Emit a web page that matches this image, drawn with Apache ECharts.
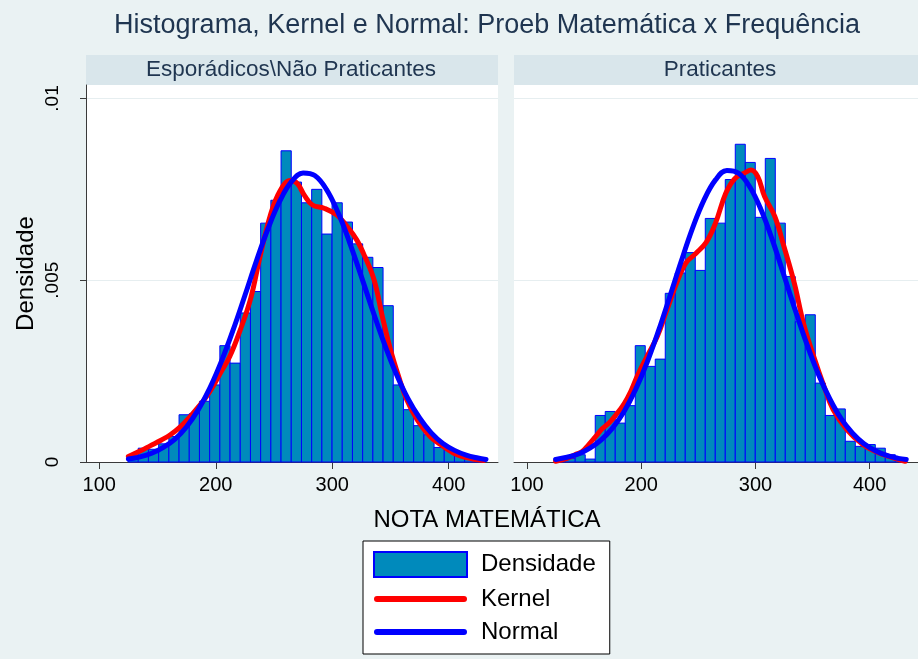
<!DOCTYPE html>
<html>
<head>
<meta charset="utf-8">
<title>Histograma, Kernel e Normal</title>
<script src="https://cdn.jsdelivr.net/npm/echarts@6/dist/echarts.min.js"></script>
<style>
	html, body { margin: 0; padding: 0; background: #eaf2f3; }
	#chart { width: 918px; height: 659px; }
</style>
</head>
<body>
<div id="chart"></div>
<script>
	//histogram bins, same for both panels
	var binStart = 124.7;
	var binWidth = 8.757;
	var panelNames = ['Esporádicos\\Não Praticantes', 'Praticantes'];
	var xTicks = [100, 200, 300, 400];
	var yTicks = [0, 0.005, 0.01];

	//bar heights (density)
	var densNao = [0.00015, 0.00038, 0.00035, 0.0005, 0.0007, 0.0013, 0.00133, 0.00167, 0.00212, 0.0032,
		0.00272, 0.0041, 0.00469, 0.00657, 0.0072, 0.00856, 0.0077, 0.00713, 0.0075, 0.00627,
		0.00713, 0.0066, 0.006, 0.00563, 0.00535, 0.0043, 0.00212, 0.00144, 0.001, 0.00075,
		0.0004, 0.00034, 0.0002, 0.00012, 0.00006];
	var densPrat = [0.00005, 0.0001, 0.0002, 0.00008, 0.00128, 0.00139, 0.00107, 0.00155, 0.0032, 0.00263,
		0.00283, 0.00464, 0.0052, 0.00576, 0.00527, 0.0067, 0.00657, 0.00777, 0.00874, 0.00824,
		0.00673, 0.00835, 0.00657, 0.0051, 0.00386, 0.00405, 0.00217, 0.00128, 0.00146, 0.00057,
		0.00043, 0.00048, 0.00038, 0.0002, 0.0001];

	//kernel curves
	var kernNaoX = [125, 135, 144, 153, 161, 170, 178, 186, 192, 198, 204, 212, 221, 230, 238, 247, 255, 264, 270, 276,
		283, 293, 304, 313, 321, 328, 336, 343, 350, 357, 364, 373, 384, 393, 404, 415, 430];
	var kernNaoY = [0.00015, 0.0003, 0.00045, 0.0006, 0.00075, 0.00098, 0.00125, 0.00155, 0.0018, 0.0021,
		0.00245, 0.0029, 0.00363, 0.0045, 0.00565, 0.0068, 0.00745, 0.00774, 0.00766, 0.00734,
		0.00707, 0.00698, 0.00679, 0.00647, 0.00611, 0.00565, 0.005, 0.004, 0.00309, 0.00235,
		0.00171, 0.00116, 0.0007, 0.00048, 0.00025, 0.00012, 0.00004];
	var kernPratX = [125, 135, 142, 148, 154, 160, 166, 172, 178, 185, 191, 197, 205, 214, 222, 231, 239, 248, 257, 265,
		274, 282, 291, 296, 302, 308, 317, 325, 334, 342, 351, 360, 368, 380, 394, 408, 431];
	var kernPratY = [0.00002, 0.0001, 0.0002, 0.00028, 0.00048, 0.0007, 0.00092, 0.00108, 0.0013, 0.0016,
		0.00195, 0.0024, 0.0029, 0.00345, 0.00414, 0.00492, 0.00547, 0.00574, 0.00605, 0.00657,
		0.00739, 0.0078, 0.00796, 0.00803, 0.00785, 0.0073, 0.00675, 0.00592, 0.00492, 0.00382,
		0.0029, 0.00208, 0.00144, 0.00089, 0.00048, 0.00025, 0.00002];

	//normal curves
	var normX = [125, 135, 145, 155, 165, 175, 185, 195, 205, 215, 225, 235, 245, 255, 265, 275,
		285, 295, 305, 315, 325, 335, 345, 355, 365, 375, 385, 395, 405, 415, 425, 432];
	var normNaoY = [0.00008, 0.00014, 0.00024, 0.0004, 0.00063, 0.00097, 0.00144, 0.00204, 0.00278, 0.00364,
		0.00458, 0.00554, 0.00643, 0.00718, 0.00771, 0.00795, 0.00788, 0.0075, 0.00686, 0.00603,
		0.0051, 0.00414, 0.00323, 0.00242, 0.00174, 0.00121, 0.0008, 0.00051, 0.00032, 0.00019,
		0.00011, 0.00007];
	var normPratY = [0.00007, 0.00013, 0.00022, 0.00038, 0.00061, 0.00094, 0.00139, 0.00199, 0.00273, 0.0036,
		0.00455, 0.00552, 0.00644, 0.00721, 0.00776, 0.00802, 0.00795, 0.00757, 0.00693, 0.00609,
		0.00513, 0.00416, 0.00324, 0.00242, 0.00174, 0.00119, 0.00079, 0.0005, 0.00031, 0.00018,
		0.0001, 0.00007];

	var barFill = '#008abc';
	var barLine = '#0000ff';
	var axisColor = '#3a3a3a';
	var titleColor = '#1f3550';
	var font = 'Liberation Sans, Arial, sans-serif';

	function pairs(xs, ys) {
		var out = [];
		for(var i = 0; i < xs.length; i++) {
			out.push([xs[i], ys[i]]);
		}
		return out;
	}

	function bins(dens) {
		var out = [];
		for(var i = 0; i < dens.length; i++) {
			out.push([binStart + binWidth * i, binStart + binWidth * (i + 1), dens[i]]);
		}
		return out;
	}

	//draw one bar from bin start to bin end
	function renderBar(params, api) {
		var p0 = api.coord([api.value(0), api.value(2)]);
		var p1 = api.coord([api.value(1), 0]);
		return {
			type: 'rect',
			shape: { x: p0[0], y: p0[1], width: p1[0] - p0[0], height: p1[1] - p0[1] },
			style: { fill: barFill, stroke: barLine, lineWidth: 1 }
		};
	}

	function yLabel(v) {
		if(v === 0) return '0';
		return String(v).replace('0.', '.');
	}

	function xAxisOpt(idx) {
		return {
			type: 'value', gridIndex: idx, min: 88.6, max: 442.3,
			axisLine: { show: true, lineStyle: { color: axisColor, width: 1 } },
			axisTick: { show: true, length: 7, customValues: xTicks, lineStyle: { color: axisColor } },
			axisLabel: { customValues: xTicks, margin: 13, fontSize: 20, color: '#000', fontFamily: font },
			splitLine: { show: false }
		};
	}

	function yAxisOpt(idx) {
		var first = idx === 0;
		return {
			type: 'value', gridIndex: idx, min: 0, max: 0.01037,
			name: first ? 'Densidade' : '', nameLocation: 'middle', nameRotate: 90, nameGap: 48,
			nameTextStyle: { fontSize: 24, color: '#000', fontFamily: font },
			axisLine: { show: first, lineStyle: { color: axisColor, width: 1 } },
			axisTick: { show: first, length: 6, customValues: yTicks, lineStyle: { color: axisColor } },
			axisLabel: { show: first, customValues: yTicks, rotate: 90, margin: 24, fontSize: 19, color: '#000', fontFamily: font, formatter: yLabel },
			splitLine: { show: true, lineStyle: { color: '#e6eef0', width: 1 } }
		};
	}

	function lineSeries(name, idx, data, color) {
		return {
			name: name, type: 'line', xAxisIndex: idx, yAxisIndex: idx,
			data: data, smooth: 0.4, symbol: 'none',
			lineStyle: { color: color, width: 5, cap: 'round', join: 'round' },
			itemStyle: { color: color }
		};
	}

	var lineIcon = 'path://M3,0L90,0A3,3 0 0 1 90,6L3,6A3,3 0 0 1 3,0Z';

	var myChart = echarts.init(document.getElementById('chart'));
	var option = {
		animation: false,
		backgroundColor: '#eaf2f3',
		grid: [
			{ left: 86, top: 85, width: 412, height: 377, show: true, backgroundColor: '#fff', borderWidth: 0 },
			{ left: 514, top: 85, width: 412, height: 377, show: true, backgroundColor: '#fff', borderWidth: 0 }
		],
		xAxis: [xAxisOpt(0), xAxisOpt(1)],
		yAxis: [yAxisOpt(0), yAxisOpt(1)],
		legend: {
			left: 363, top: 541, orient: 'vertical',
			padding: [10, 14, 10, 10], itemGap: 9, itemWidth: 93, itemHeight: 25,
			symbolKeepAspect: true,
			backgroundColor: '#fff', borderColor: '#000', borderWidth: 1, borderRadius: 0,
			selectedMode: false,
			formatter: function(name) { return '{t|' + name + '}'; },
			textStyle: {
				color: '#000', fontSize: 24, fontFamily: font,
				rich: { t: { padding: [0, 0, 0, 9], fontSize: 24, color: '#000', fontFamily: font } }
			},
			data: [
				{ name: 'Densidade', icon: 'rect', itemStyle: { color: barFill, borderColor: barLine, borderWidth: 2 } },
				{ name: 'Kernel', icon: lineIcon, itemStyle: { color: '#ff0000', borderWidth: 0 } },
				{ name: 'Normal', icon: lineIcon, itemStyle: { color: '#0000ff', borderWidth: 0 } }
			]
		},
		graphic: [
			{ type: 'text', x: 487, y: 26, style: { text: 'Histograma, Kernel e Normal: Proeb Matemática x Frequência', align: 'center', verticalAlign: 'middle', fontSize: 27, fontFamily: font, fill: titleColor } },
			{ type: 'rect', shape: { x: 86, y: 55, width: 412, height: 30 }, style: { fill: '#d9e6eb' } },
			{ type: 'rect', shape: { x: 514, y: 55, width: 412, height: 30 }, style: { fill: '#d9e6eb' } },
			{ type: 'text', x: 291, y: 70, style: { text: panelNames[0], align: 'center', verticalAlign: 'middle', fontSize: 22.5, fontFamily: font, fill: titleColor } },
			{ type: 'text', x: 720, y: 70, style: { text: panelNames[1], align: 'center', verticalAlign: 'middle', fontSize: 22.5, fontFamily: font, fill: titleColor } },
			{ type: 'text', x: 487, y: 520, style: { text: 'NOTA MATEMÁTICA', align: 'center', verticalAlign: 'middle', fontSize: 24, fontFamily: font, fill: '#000' } }
		],
		series: [
			{ name: 'Densidade', type: 'custom', xAxisIndex: 0, yAxisIndex: 0, renderItem: renderBar, encode: { x: [0, 1], y: 2 }, data: bins(densNao), itemStyle: { color: barFill } },
			{ name: 'Densidade', type: 'custom', xAxisIndex: 1, yAxisIndex: 1, renderItem: renderBar, encode: { x: [0, 1], y: 2 }, data: bins(densPrat), itemStyle: { color: barFill } },
			lineSeries('Kernel', 0, pairs(kernNaoX, kernNaoY), '#ff0000'),
			lineSeries('Kernel', 1, pairs(kernPratX, kernPratY), '#ff0000'),
			lineSeries('Normal', 0, pairs(normX, normNaoY), '#0000ff'),
			lineSeries('Normal', 1, pairs(normX, normPratY), '#0000ff')
		]
	};
	myChart.setOption(option);
</script>
</body>
</html>
